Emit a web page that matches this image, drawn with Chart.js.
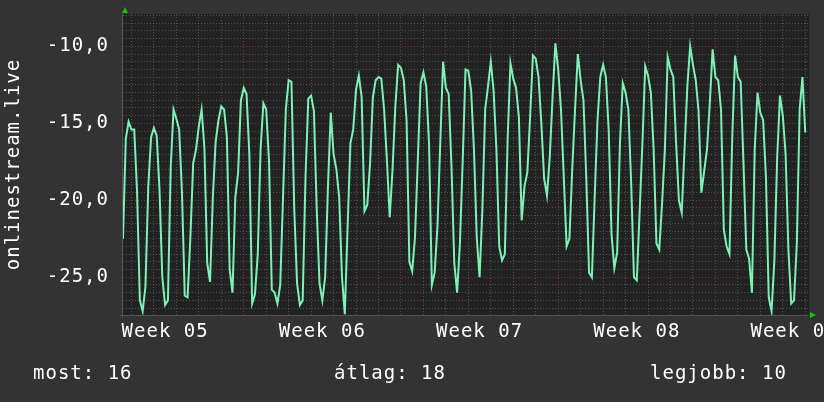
<!DOCTYPE html>
<html>
<head>
<meta charset="utf-8">
<script src="https://cdn.jsdelivr.net/npm/chart.js@4"></script>
<style>
    html, body { margin: 0; padding: 0; background: #333; }
    canvas { display: block; }
</style>
</head>
<body>
<canvas id="chart" width="824" height="402"></canvas>
<script>
// one sample every 3 hours, hour 0 = first midnight in view
const startHour = -9;
const stepHours = 3;

const week05 = [
    -22.5, -16.0, -14.9,
    -15.4, -15.4, -19.4, -26.5, -27.2, -25.6, -19.1, -15.9,
    -15.3, -15.8, -19.3, -25.0, -26.8, -26.5, -17.8, -14.1,
    -14.7, -15.4, -19.5, -26.2, -26.3, -22.4, -17.6, -16.7,
    -15.2, -14.1, -16.6, -24.1, -25.3, -19.8, -16.2, -14.8,
    -13.9, -14.1, -15.9, -24.5, -26.0, -19.8, -18.2, -13.5,
];
const week06 = [
    -12.7, -13.1, -17.0, -26.7, -26.1, -23.5, -16.7, -13.7,
    -14.1, -17.4, -25.8, -26.0, -26.7, -25.5, -19.8, -14.1,
    -12.2, -12.3, -20.6, -25.4, -26.8, -26.5, -18.5, -13.4,
    -13.2, -14.2, -20.6, -25.4, -26.5, -25.0, -19.1, -14.3,
    -17.0, -18.0, -19.8, -25.0, -27.4, -21.7, -16.3, -15.4,
    -12.8, -11.9, -13.3, -20.7, -20.3, -17.6, -13.3, -12.2,
    -12.0, -12.1, -14.1, -17.4, -21.1, -18.0, -13.9, -11.2,
];
const week07 = [
    -11.4, -12.2, -14.8, -24.0, -24.6, -22.4, -17.4, -12.4,
    -11.7, -12.6, -16.3, -25.5, -24.7, -21.7, -16.3, -11.0,
    -12.7, -13.1, -17.8, -24.1, -26.0, -22.8, -17.4, -11.5,
    -11.6, -12.9, -16.7, -22.4, -25.0, -20.6, -14.1, -12.6,
    -11.0, -12.9, -16.7, -23.0, -23.9, -23.5, -16.0, -11.1,
    -12.1, -12.7, -14.6, -21.3, -19.1, -18.2, -14.6, -10.6,
    -10.8, -12.0, -15.0, -18.6, -19.7, -17.2, -13.3, -9.8,
];
const week08 = [
    -11.5, -14.1, -18.5, -23.0, -22.5, -18.0, -14.1, -10.5,
    -12.2, -13.5, -18.5, -24.7, -25.0, -19.8, -14.8, -12.0,
    -11.2, -12.0, -15.5, -22.2, -24.4, -23.4, -16.3, -12.4,
    -13.0, -14.1, -18.9, -25.0, -25.2, -20.8, -16.3, -11.3,
    -11.9, -13.0, -16.7, -22.8, -23.2, -20.2, -16.7, -10.7,
    -11.5, -12.0, -16.3, -20.0, -20.8, -16.7, -12.6, -10.0,
    -11.2, -12.2, -14.2, -19.5, -18.1, -16.7, -13.7, -10.2,
];
const week09 = [
    -12.0, -12.2, -14.1, -21.9, -23.0, -23.5, -15.9, -10.6,
    -12.0, -12.3, -17.6, -23.2, -23.8, -26.0, -16.7, -13.0,
    -14.3, -14.8, -18.5, -26.3, -27.2, -23.9, -17.2, -13.2,
    -14.5, -17.0, -23.2, -26.7, -26.5, -22.8, -14.1, -12.0,
    -15.6,
];

const weekLabels = ['Week 05', 'Week 06', 'Week 07', 'Week 08', 'Week 09'];
const weekLabelHours = [36, 204, 372, 540, 708];
const weekStartHours = [120, 288, 456, 624];
const yTickValues = [-10, -15, -20, -25];
const yTickLabels = ['-10,0', '-15,0', '-20,0', '-25,0'];
const axisTitle = 'onlinestream.live';
const legendLabels = ['most: 16', 'átlag: 18', 'legjobb: 10'];

const values = [...week05, ...week06, ...week07, ...week08, ...week09];
const points = values.map((v, i) => ({ x: startHour + i * stepHours, y: v }));

const FONT = '19px "DejaVu Sans Mono", monospace';
const GRID = 'rgba(120,120,120,0.55)';
const MAJOR = 'rgba(160,55,55,0.8)';

const range = (from, to, step) => {
    const out = [];
    for (let v = from; v <= to + 1e-9; v += step) out.push(Math.round(v * 100) / 100);
    return out;
};

const rrdLook = {
    id: 'rrdLook',
    beforeDraw(chart) {
        const { ctx, chartArea: a } = chart;
        ctx.save();
        ctx.fillStyle = '#333333';
        ctx.fillRect(0, 0, chart.width, chart.height);
        ctx.fillStyle = '#222222';
        ctx.fillRect(a.left, a.top, a.right - a.left, a.bottom - a.top);
        ctx.restore();
    },
    afterDraw(chart) {
        const { ctx, chartArea: a, scales } = chart;
        ctx.save();

        // axis lines
        ctx.strokeStyle = '#555';
        ctx.lineWidth = 1;
        ctx.beginPath();
        ctx.moveTo(a.left - 3, a.bottom + 0.5);
        ctx.lineTo(a.right, a.bottom + 0.5);
        ctx.moveTo(a.left - 0.5, a.top);
        ctx.lineTo(a.left - 0.5, a.bottom + 3);
        ctx.stroke();

        // arrows
        ctx.fillStyle = '#00cc00';
        ctx.beginPath();
        ctx.moveTo(a.left + 2, a.top - 7);
        ctx.lineTo(a.left - 1, a.top - 1);
        ctx.lineTo(a.left + 5, a.top - 1);
        ctx.fill();
        ctx.beginPath();
        ctx.moveTo(a.right + 7, a.bottom);
        ctx.lineTo(a.right + 1, a.bottom - 3);
        ctx.lineTo(a.right + 1, a.bottom + 3);
        ctx.fill();

        ctx.fillStyle = '#ffffff';
        ctx.font = FONT;
        ctx.letterSpacing = '1px';
        ctx.textBaseline = 'middle';

        ctx.textAlign = 'right';
        yTickValues.forEach((v, i) => {
            ctx.fillText(yTickLabels[i], 109, scales.y.getPixelForValue(v));
        });

        ctx.textAlign = 'center';
        weekLabels.forEach((label, i) => {
            ctx.fillText(label, scales.x.getPixelForValue(weekLabelHours[i]), 332);
        });

        ctx.textAlign = 'left';
        ctx.fillText(legendLabels[0], 33, 374);
        ctx.fillText(legendLabels[1], 334, 374);
        ctx.fillText(legendLabels[2], 650, 374);

        ctx.translate(14, (a.top + a.bottom) / 2);
        ctx.rotate(-Math.PI / 2);
        ctx.textAlign = 'center';
        ctx.fillText(axisTitle, 0, 0);

        ctx.restore();
    },
};

new Chart(document.getElementById('chart'), {
    type: 'line',
    data: {
        datasets: [
            {
                data: points,
                borderColor: '#7cf2b6',
                borderWidth: 2,
                pointRadius: 0,
                tension: 0,
                fill: false,
            },
        ],
    },
    options: {
        devicePixelRatio: 1,
        responsive: false,
        maintainAspectRatio: false,
        animation: false,
        layout: {
            padding: { left: 123, right: 15, top: 14, bottom: 87 },
        },
        plugins: {
            legend: { display: false },
            tooltip: { enabled: false },
        },
        scales: {
            x: {
                type: 'linear',
                min: startHour,
                max: 724,
                afterBuildTicks: (scale) => {
                    scale.ticks = range(0, 720, 24).map((value) => ({ value }));
                },
                ticks: { display: false },
                border: { display: false, dash: [1, 2] },
                grid: {
                    drawTicks: false,
                    borderDash: [1, 2],
                    color: (c) => (weekStartHours.includes(c.tick.value) ? MAJOR : GRID),
                },
            },
            y: {
                min: -27.45,
                max: -7.9,
                afterBuildTicks: (scale) => {
                    scale.ticks = range(-27, -8, 0.5).map((value) => ({ value }));
                },
                ticks: { display: false },
                border: { display: false, dash: [1, 2] },
                grid: {
                    drawTicks: false,
                    borderDash: [1, 2],
                    color: (c) => (c.tick.value % 5 === 0 ? MAJOR : GRID),
                },
            },
        },
    },
    plugins: [rrdLook],
});
</script>
</body>
</html>
